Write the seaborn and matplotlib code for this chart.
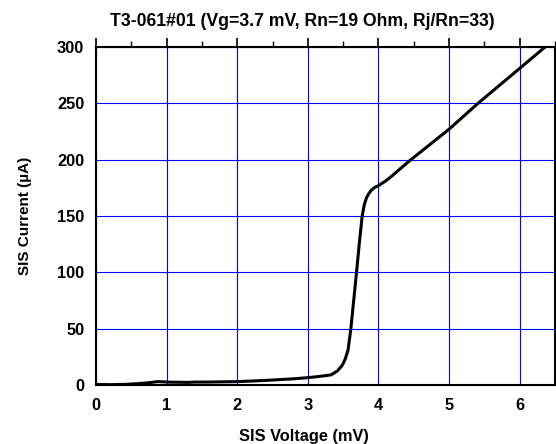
import matplotlib
matplotlib.use("Agg")
import matplotlib.pyplot as plt
import seaborn as sns
import pandas as pd
from matplotlib.ticker import MultipleLocator

voltage = [0.0, 0.2, 0.4, 0.6, 0.75, 0.87, 0.95, 1.05, 1.2, 1.3, 1.4, 1.6, 1.8, 2.0, 2.2, 2.5, 2.8, 3.0, 3.15, 3.33, 3.42, 3.49, 3.53,
           3.57, 3.61, 3.65, 3.69, 3.73, 3.77, 3.80, 3.83, 3.86, 3.90, 3.95, 4.0, 4.1, 4.2, 4.3, 4.46, 5.0, 5.41, 6.0, 6.36, 6.5]
current = [0.5, 0.3, 0.5, 1.2, 2.0, 3.0, 2.8, 2.5, 2.4, 2.3, 2.6, 2.6, 2.8, 3.0, 3.5, 4.4, 5.5, 6.5, 7.5, 9.0, 12.5, 17.7, 23.0,
           31.0, 50.0, 75.0, 100.0, 126.0, 150.0, 160.0, 166.0, 169.5, 173.0, 175.5, 177.0, 181.0, 186.0, 191.5, 200.0, 227.0, 250.0, 281.0, 300.0, 307.0]

df = pd.DataFrame({"V": voltage, "I": current})

sns.set_theme(style="white")
plt.rcParams['font.family'] = ['Liberation Sans', 'DejaVu Sans']
plt.rcParams['text.color'] = 'black'
plt.rcParams['axes.labelcolor'] = 'black'

fig = plt.figure(figsize=(5.56, 4.44), dpi=100)
ax = fig.add_axes([0.1727, 0.1329, 0.8253, 0.7611])

sns.lineplot(data=df, x="V", y="I", sort=False, color="black", linewidth=2.2, ax=ax)

ax.set_xlim(0, 6.5)
ax.set_ylim(0, 300)
ax.xaxis.set_major_locator(MultipleLocator(1))
ax.xaxis.set_minor_locator(MultipleLocator(0.5))
ax.yaxis.set_major_locator(MultipleLocator(50))
ax.yaxis.set_minor_locator(MultipleLocator(25))
ax.grid(True, which="major", color="#0000ff", linewidth=0.8)
for s in ax.spines.values():
    s.set_color("black")
    s.set_linewidth(1.5)
ax.tick_params(which="major", direction="out", length=6.5, width=1.2, colors="black",
               top=True, right=True, labelsize=11.8, pad=2)
ax.tick_params(axis="x", which="major", pad=3)
ax.tick_params(which="minor", direction="out", length=4, width=1.0, colors="black",
               top=True, right=True)
for lab in ax.get_xticklabels() + ax.get_yticklabels():
    lab.set_fontweight("bold")
    lab.set_color("black")

ax.set_xlabel("")
ax.set_ylabel("SIS Current (\u00b5A)", fontsize=11, fontweight="bold", labelpad=18, color="black")
fig.text(304 / 556, 1 - 436 / 444, "SIS Voltage (mV)", fontsize=11.8, fontweight="bold",
         ha="center", va="center", color="black")
fig.text(302 / 556, 1 - 22 / 444, "T3-061#01 (Vg=3.7 mV, Rn=19 Ohm, Rj/Rn=33)", fontsize=12.7,
         fontweight="bold", ha="center", va="center", color="black")

fig.savefig("out.png", dpi=100)
